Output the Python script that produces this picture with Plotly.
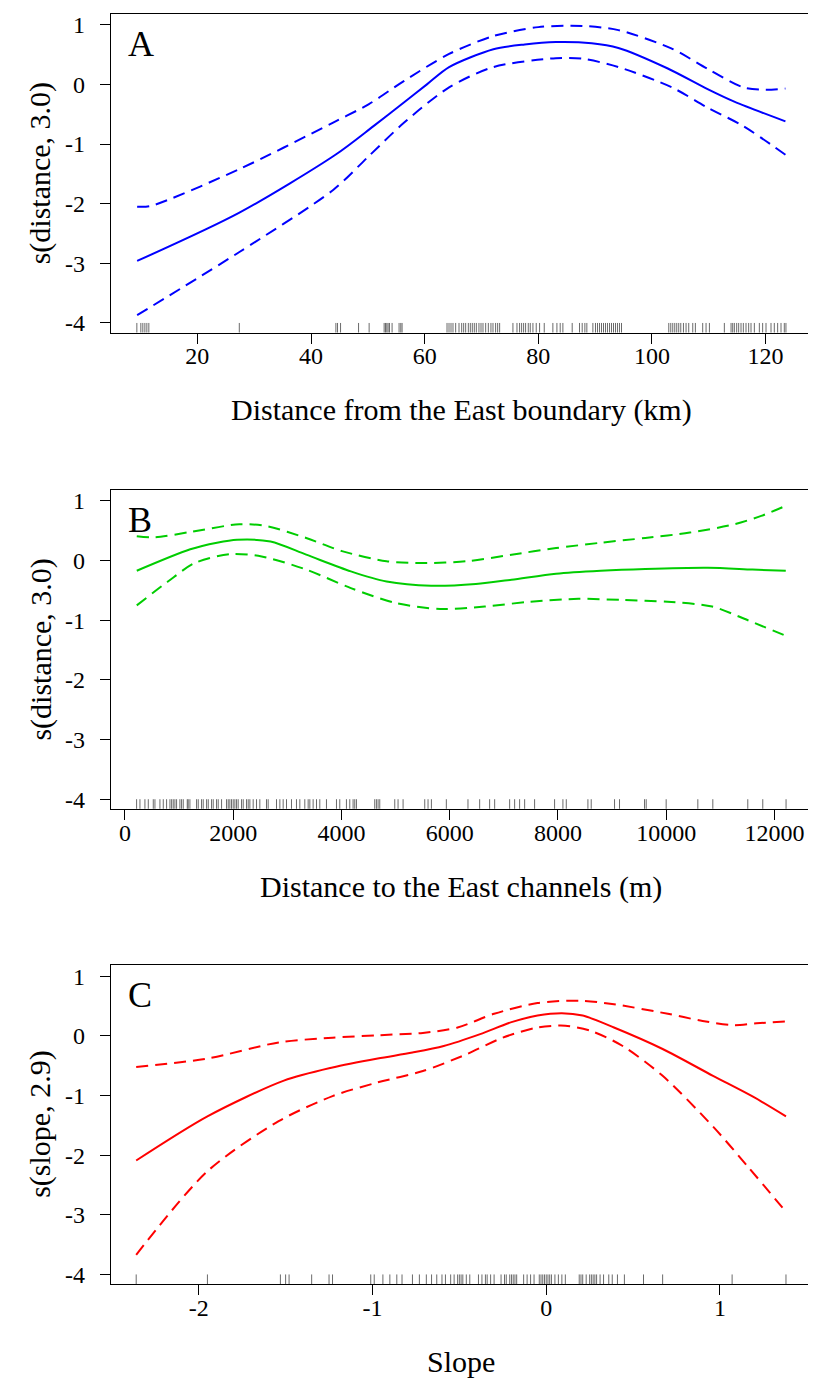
import plotly.graph_objects as go

FONT = "Liberation Serif"

# ---------------- Panel A data ----------------
xA = [9.4, 27.4, 44.3, 51.0, 56.4, 60.4, 64.3, 72.1, 77.6, 83.1, 89.4, 94.1, 102.7, 109.8, 114.5, 123.5]
yA = [-2.96, -2.15, -1.18, -0.70, -0.30, 0.0, 0.29, 0.59, 0.67, 0.71, 0.69, 0.61, 0.27, -0.08, -0.29, -0.62]
xA_up = [9.4, 11.7, 27.4, 43.9, 50.2, 56.4, 64.3, 72.1, 80.0, 87.8, 94.1, 103.5, 109.8, 116.1, 120.0, 123.5]
yA_up = [-2.05, -2.04, -1.42, -0.64, -0.33, 0.06, 0.51, 0.81, 0.96, 0.98, 0.91, 0.60, 0.26, -0.05, -0.09, -0.07]
xA_lo = [9.4, 27.4, 43.9, 50.2, 56.4, 64.3, 72.1, 83.1, 87.8, 94.1, 103.5, 109.8, 116.1, 123.5]
yA_lo = [-3.87, -2.81, -1.77, -1.20, -0.64, -0.05, 0.29, 0.44, 0.43, 0.29, -0.05, -0.39, -0.70, -1.18]
rugA = [9.35, 10.05, 10.40, 10.76, 11.11, 11.46, 27.38, 44.38, 44.67, 45.20, 48.37, 50.23, 52.87, 53.11,
        53.34, 53.57, 53.81, 54.27, 55.50, 55.80, 56.03, 63.94, 64.29, 64.64, 64.99, 65.46, 66.05, 66.52,
        66.87, 67.22, 67.69, 68.04, 68.39, 68.74, 69.10, 69.56, 69.92, 70.27, 70.74, 71.21, 71.67, 72.03,
        72.49, 72.85, 73.20, 75.54, 76.25, 76.71, 77.07, 77.42, 77.77, 78.24, 78.59, 79.06, 79.64, 80.23,
        81.05, 82.57, 83.28, 83.86, 84.33, 85.97, 87.26, 87.73, 88.20, 88.55, 89.61, 90.07, 90.43, 90.78,
        91.13, 91.48, 91.83, 92.18, 92.54, 92.89, 93.24, 93.59, 93.94, 94.29, 94.65, 102.97, 103.32,
        103.67, 104.02, 104.37, 104.72, 105.08, 105.55, 106.01, 106.48, 107.19, 107.65, 108.94, 109.53,
        110.12, 112.75, 113.93, 114.22, 114.51, 114.92, 115.27, 115.68, 116.09, 116.56, 117.03, 117.44,
        118.03, 118.91, 119.49, 120.08, 120.96, 121.54, 122.13, 122.72, 123.30, 123.59]
ticksA = [20, 40, 60, 80, 100, 120]
tickA_text = ["20", "40", "60", "80", "100", "120"]

# ---------------- Panel B data ----------------
xB = [218, 1207, 1700, 2071, 2690, 3349, 4174, 4834, 5657, 6483, 7142, 7966, 8789, 9614, 10768, 11593, 12210]
yB = [-0.17, 0.19, 0.30, 0.35, 0.32, 0.10, -0.18, -0.35, -0.42, -0.39, -0.32, -0.22, -0.17, -0.14, -0.12, -0.15, -0.17]
xB_up = [218, 546, 1207, 2114, 2609, 3349, 4009, 4834, 5492, 6316, 7142, 7966, 8789, 9614, 10437, 11262, 11757, 12210]
yB_up = [0.41, 0.39, 0.48, 0.61, 0.58, 0.38, 0.16, -0.01, -0.04, -0.01, 0.10, 0.21, 0.30, 0.38, 0.47, 0.61, 0.75, 0.92]
xB_lo = [218, 794, 1289, 1948, 2526, 3349, 4174, 4998, 5823, 6647, 7470, 8379, 9203, 10026, 10850, 11510, 12210]
yB_lo = [-0.75, -0.35, -0.04, 0.11, 0.07, -0.15, -0.46, -0.71, -0.81, -0.77, -0.69, -0.64, -0.66, -0.69, -0.77, -1.00, -1.26]
rugB = [215, 277, 369, 431, 523, 554, 646, 708, 769, 831, 862, 892, 923, 954, 1015, 1046, 1077, 1151, 1169,
        1200, 1323, 1354, 1415, 1446, 1508, 1539, 1600, 1631, 1692, 1723, 1785, 1877, 1908, 1938, 1969,
        2000, 2031, 2062, 2092, 2154, 2185, 2246, 2277, 2308, 2369, 2431, 2492, 2615, 2646, 2800, 2862,
        2923, 2985, 3077, 3169, 3231, 3323, 3385, 3416, 3477, 3539, 3600, 3723, 3908, 3969, 4092, 4154,
        4215, 4246, 4277, 4615, 4646, 4677, 4708, 4985, 5046, 5139, 5539, 5600, 5662, 5938, 6338, 6554,
        6738, 6831, 7108, 7200, 7292, 7385, 7569, 7938, 8092, 8154, 8554, 8615, 9046, 9138, 9600, 9631,
        10000, 10585, 10862, 11508, 11785, 12215]
ticksB = [0, 2000, 4000, 6000, 8000, 10000, 12000]
tickB_text = ["0", "2000", "4000", "6000", "8000", "10000", "12000"]

# ---------------- Panel C data ----------------
xC = [-2.36, -1.95, -1.51, -1.23, -0.97, -0.77, -0.59, -0.38, -0.20, -0.05, 0.09, 0.21, 0.39, 0.67, 0.96, 1.19, 1.38]
yC = [-2.09, -1.35, -0.75, -0.53, -0.38, -0.28, -0.17, 0.03, 0.23, 0.34, 0.38, 0.34, 0.14, -0.22, -0.67, -1.02, -1.35]
xC_up = [-2.36, -1.95, -1.54, -1.23, -0.97, -0.71, -0.51, -0.30, -0.05, 0.19, 0.39, 0.70, 0.90, 1.08, 1.21, 1.38]
yC_up = [-0.52, -0.38, -0.11, -0.03, 0.01, 0.05, 0.14, 0.37, 0.55, 0.59, 0.53, 0.37, 0.25, 0.18, 0.21, 0.24]
xC_lo = [-2.36, -1.95, -1.54, -1.23, -0.97, -0.71, -0.46, -0.25, -0.05, 0.11, 0.26, 0.44, 0.67, 0.96, 1.16, 1.38]
yC_lo = [-3.67, -2.27, -1.43, -1.01, -0.78, -0.59, -0.31, -0.03, 0.14, 0.17, 0.08, -0.17, -0.67, -1.52, -2.19, -2.95]
rugC = [-2.36, -1.95, -1.53, -1.50, -1.48, -1.35, -1.25, -1.23, -1.01, -0.99, -0.94, -0.90, -0.86, -0.83,
        -0.77, -0.73, -0.69, -0.66, -0.63, -0.60, -0.58, -0.55, -0.53, -0.51, -0.50, -0.49, -0.48, -0.46,
        -0.44, -0.39, -0.37, -0.35, -0.34, -0.32, -0.30, -0.26, -0.24, -0.23, -0.21, -0.20, -0.19, -0.18,
        -0.17, -0.13, -0.11, -0.09, -0.07, -0.04, -0.03, -0.02, -0.01, 0.00, 0.01, 0.02, 0.03, 0.05, 0.07,
        0.09, 0.11, 0.19, 0.20, 0.21, 0.23, 0.25, 0.26, 0.27, 0.28, 0.29, 0.31, 0.33, 0.36, 0.38, 0.41,
        0.45, 0.56, 0.67, 1.07, 1.38]
ticksC = [-2, -1, 0, 1]
tickC_text = ["-2", "-1", "0", "1"]

yticks = [-4, -3, -2, -1, 0, 1]
ytick_text = ["-4", "-3", "-2", "-1", "0", "1"]

panels = [
    dict(label="A", color="#0000FF", x=xA, y=yA, xu=xA_up, yu=yA_up, xl=xA_lo, yl=yA_lo, rug=rugA,
         ticks=ticksA, ticktext=tickA_text, xrange=[4.8, 128.0], xtitle="Distance from the East boundary (km)",
         ytitle="s(distance, 3.0)", domain=[0.7492, 1.0]),
    dict(label="B", color="#00CD00", x=xB, y=yB, xu=xB_up, yu=yB_up, xl=xB_lo, yl=yB_lo, rug=rugB,
         ticks=ticksB, ticktext=tickB_text, xrange=[-258, 12676], xtitle="Distance to the East channels (m)",
         ytitle="s(distance, 3.0)", domain=[0.3742, 0.625]),
    dict(label="C", color="#FF0000", x=xC, y=yC, xu=xC_up, yu=yC_up, xl=xC_lo, yl=yC_lo, rug=rugC,
         ticks=ticksC, ticktext=tickC_text, xrange=[-2.505, 1.524], xtitle="Slope",
         ytitle="s(slope, 2.9)", domain=[0.0, 0.2508]),
]

fig = go.Figure()
# the page body adds an 8px margin; the figure is sized/offset to compensate
layout = dict(
    width=808, height=1370,
    margin=dict(l=103, r=4, t=4, b=94),
    paper_bgcolor="white", plot_bgcolor="white",
    showlegend=False,
    font=dict(family=FONT, color="black", size=24),
)
shapes = []
annotations = []
YR = [-4.16, 1.18]

for i, p in enumerate(panels):
    n = "" if i == 0 else str(i + 1)
    xa, ya = "x" + n, "y" + n
    for xs, ys, dash in [(p["x"], p["y"], "solid"), (p["xu"], p["yu"], "12px,7px"), (p["xl"], p["yl"], "12px,7px")]:
        fig.add_trace(go.Scatter(x=xs, y=ys, mode="lines", xaxis=xa, yaxis=ya,
                                 line=dict(color=p["color"], width=2, dash=dash, shape="spline", smoothing=0.8),
                                 hoverinfo="skip"))
    for v in p["rug"]:
        shapes.append(dict(type="line", xref=xa, yref=ya + " domain", x0=v, x1=v, y0=0, y1=0.03,
                           line=dict(color="rgba(0,0,0,0.65)", width=0.9)))
    layout["xaxis" + n] = dict(
        domain=[0, 1], anchor=ya, range=p["xrange"], showgrid=False, zeroline=False,
        showline=True, linecolor="black", linewidth=1.3, mirror=True,
        ticks="outside", ticklen=10, tickwidth=1.2, tickcolor="black",
        tickvals=p["ticks"], ticktext=p["ticktext"], tickfont=dict(family=FONT, size=24),
        ticklabelstandoff=-8,
    )
    layout["yaxis" + n] = dict(
        domain=p["domain"], anchor=xa, range=YR, showgrid=False, zeroline=False,
        showline=True, linecolor="black", linewidth=1.3, mirror=True,
        ticks="outside", ticklen=10, tickwidth=1.2, tickcolor="black",
        tickvals=yticks, ticktext=ytick_text, tickfont=dict(family=FONT, size=24),
        ticklabelstandoff=10,
    )
    # panel letter
    annotations.append(dict(text=p["label"], xref=xa + " domain", yref=ya + " domain", x=0.021, y=0.975,
                            xanchor="left", yanchor="top", showarrow=False,
                            font=dict(family=FONT, size=36, color="black")))
    # x title
    annotations.append(dict(text=p["xtitle"], xref=xa + " domain", yref=ya + " domain", x=0.5, y=-78 / 319,
                            xanchor="center", yanchor="middle", showarrow=False,
                            font=dict(family=FONT, size=30, color="black")))
    # y title
    annotations.append(dict(text=p["ytitle"], xref="paper", yref=ya + " domain", x=-71 / 701, y=0.5,
                            xanchor="center", yanchor="middle", textangle=-90, showarrow=False,
                            font=dict(family=FONT, size=30, color="black")))

layout["shapes"] = shapes
layout["annotations"] = annotations
fig.update_layout(**layout)
fig.write_html("out.html")
